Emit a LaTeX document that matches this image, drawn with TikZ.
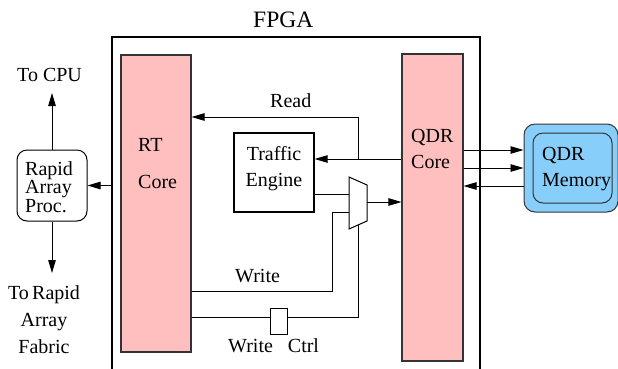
\documentclass[tikz,border=0pt]{standalone}
\usepackage{fontspec}
\setmainfont{Liberation Serif}
\usetikzlibrary{arrows.meta}
\definecolor{corepink}{RGB}{255,191,191}
\definecolor{memblue}{RGB}{135,206,250}
\begin{document}
\begin{tikzpicture}[x=1pt,y=-1pt,
  font=\fontsize{20}{26}\selectfont,
  arr/.style={line width=0.9pt,-{Triangle[length=13pt,width=7.5pt]}},
  wire/.style={line width=0.9pt},
  corebox/.style={draw=black!80,line width=1.1pt,fill=corepink,inner sep=0pt},
  plainbox/.style={draw,line width=1.3pt,inner sep=0pt},
  txt/.style={inner sep=0pt,anchor=base west,align=left}]
\useasboundingbox (0,0) rectangle (618,368);
% FPGA frame (open at the bottom of the picture)
\node[draw,line width=1.6pt,minimum width=368pt,minimum height=363pt,inner sep=0pt] (fpga) at (296,218.5) {};
\node[txt,font=\fontsize{23.5}{26}\selectfont] (fpgalbl) at (253,27) {FPGA};
% cores
\node[corebox,minimum width=70pt,minimum height=297pt] (rt) at (156,203.5) {};
\node[corebox,minimum width=61pt,minimum height=307pt] (qdr) at (432.5,207.5) {};
\node[txt,font=\fontsize{20}{37}\selectfont] (rtlbl) at (138,188) {RT\\Core};
\node[txt] (qdrlbl) at (411,168) {QDR\\Core};
% traffic engine
\node[plainbox,minimum width=80pt,minimum height=79pt] (te) at (274,172.5) {};
\node[inner sep=0pt,anchor=base,align=center] (telbl) at (274,186) {Traffic\\Engine};
% rapid array processor
\node[draw,line width=1pt,rounded corners=10pt,minimum width=70pt,minimum height=71pt,inner sep=0pt] (rap) at (52,185.5) {};
\node[txt,font=\fontsize{20}{18.5}\selectfont] (raplbl) at (25,212) {Rapid\\Array\\Proc.};
\node[txt] (cpu) at (17,81) {To CPU};
\node[inner sep=0pt,anchor=base,align=center,font=\fontsize{20}{27}\selectfont] (fabric) at (44,353) {To\,Rapid\\Array\\Fabric};
\coordinate (cpuend) at (52,93);
\coordinate (fabend) at (52,273);
% QDR memory
\node[draw=black!80,line width=1pt,fill=memblue,rounded corners=11pt,minimum width=94pt,minimum height=88pt,inner sep=0pt] (mem) at (571,168) {};
\node[draw=black!80,line width=1pt,rounded corners=10pt,minimum width=79pt,minimum height=70pt,inner sep=0pt] (memin) at (572.5,168) {};
\node[txt] (memlbl) at (542,186) {QDR\\Memory};
% mux
\coordinate (m1) at (349,177);
\coordinate (m2) at (367,185);
\coordinate (m3) at (367,221);
\coordinate (m4) at (349,229);
\draw[wire,line width=1pt] (m1) -- (m2) -- (m3) -- (m4) -- cycle;
% write ctrl box
\node[draw,line width=1pt,minimum width=17pt,minimum height=26pt,inner sep=0pt] (wc) at (278.5,321) {};
% labels
\node[txt] (readlbl) at (270,107) {Read};
\node[txt] (writelbl) at (235,282) {Write};
\node[txt] (wclbl) at (228,352) {Write\hspace{15pt}Ctrl};
% connectors: rapid array processor
\draw[arr] (fpga.west |- rap.east) -- (rap.east);
\draw[arr] (rap.north) -- (cpuend);
\draw[arr] (rap.south) -- (fabend);
% QDR core -> traffic engine, read path
\coordinate (rj) at (358,159);
\coordinate (rc) at (358,117);
\draw[arr] (qdr.west |- rj) -- (te.east |- rj);
\draw[arr] (rj) -- (rc) -- (rt.east |- rc);
% traffic engine -> mux -> QDR core
\draw[wire] (te.east |- 0,194) -- (m1 |- 0,194);
\coordinate (mo) at (367,202);
\draw[arr] (mo) -- (qdr.west |- mo);
% write path
\coordinate (w1) at (332,291);
\coordinate (w2) at (332,212);
\draw[wire] (rt.east |- w1) -- (w1) -- (w2) -- (m1 |- w2);
% write ctrl path
\coordinate (c1) at (358,317);
\coordinate (c2) at (358,225);
\draw[wire] (rt.east |- c1) -- (wc.west |- c1);
\draw[wire] (wc.east |- c1) -- (c1) -- (c2);
% QDR core <-> memory
\draw[arr] (qdr.east |- 0,150) -- (mem.west |- 0,150);
\draw[arr] (qdr.east |- 0,168) -- (mem.west |- 0,168);
\draw[arr] (mem.west |- 0,186) -- (qdr.east |- 0,186);
\end{tikzpicture}
\end{document}
